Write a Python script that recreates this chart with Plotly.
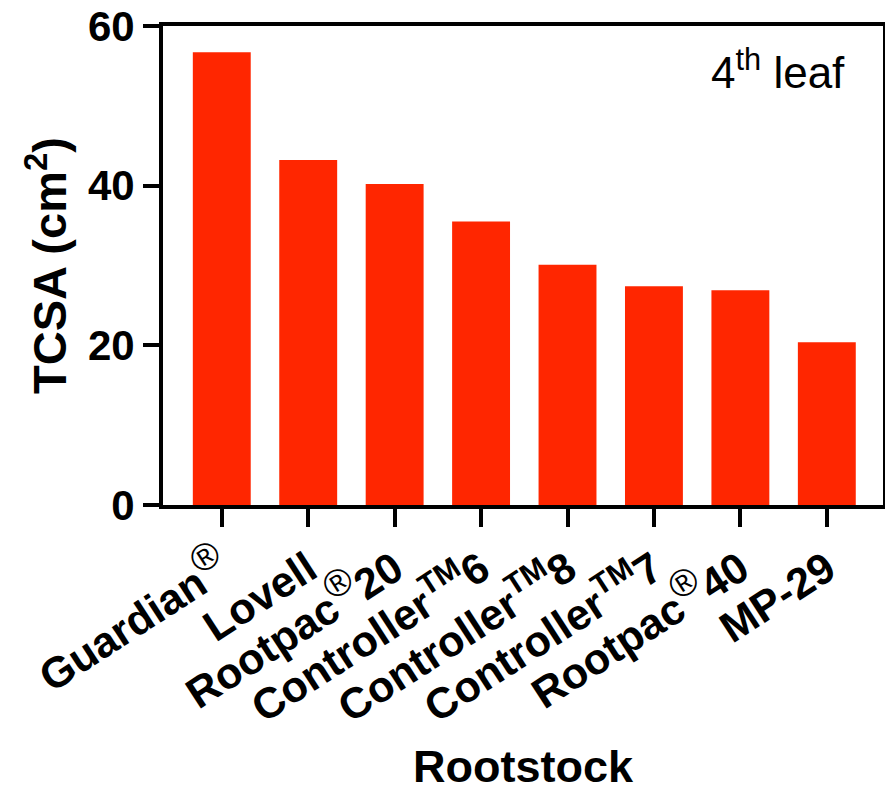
import plotly.graph_objects as go

# Trunk cross-sectional area by rootstock, 4th leaf
REG = '<sup><span style="font-weight:normal;font-size:38px">®</span></sup>'
rootstocks = [
    "Guardian" + REG,
    "Lovell",
    "Rootpac" + REG + "20",
    "Controller<sup>TM</sup>6",
    "Controller<sup>TM</sup>8",
    "Controller<sup>TM</sup>7",
    "Rootpac" + REG + "40",
    "MP-29",
]
tcsa = [56.7, 43.2, 40.2, 35.5, 30.1, 27.4, 26.9, 20.4]
y_ticks = [0, 20, 40, 60]

FONT = "Liberation Sans, Arial, sans-serif"

fig = go.Figure(
    go.Bar(
        x=list(range(len(rootstocks))),
        y=tcsa,
        width=0.67,
        marker=dict(color="#FF2600", line=dict(width=0)),
    )
)

fig.update_layout(
    width=885,
    height=792,
    margin=dict(l=163, r=2, t=26, b=287, autoexpand=False),
    plot_bgcolor="white",
    paper_bgcolor="white",
    showlegend=False,
    font=dict(family=FONT, color="black"),
)

fig.update_xaxes(
    range=[-0.68, 7.65],
    tickmode="array",
    tickvals=list(range(len(rootstocks))),
    ticktext=rootstocks,
    tickangle=-33,
    tickfont=dict(size=43, family=FONT, weight="bold"),
    ticks="outside",
    ticklen=18,
    tickwidth=4,
    tickcolor="black",
    showline=True,
    linewidth=4,
    linecolor="black",
    mirror=True,
    showgrid=False,
    zeroline=False,
    automargin=False,
    title=dict(text="Rootstock", font=dict(size=45, family=FONT, weight="bold"), standoff=22),
)

fig.update_yaxes(
    range=[0, 60],
    tickmode="array",
    tickvals=y_ticks,
    ticks="outside",
    ticklen=16,
    tickwidth=4,
    tickcolor="black",
    tickfont=dict(size=42, family=FONT, weight="bold"),
    showline=True,
    linewidth=4,
    linecolor="black",
    mirror=True,
    showgrid=False,
    zeroline=False,
    automargin=False,
    title=dict(text="TCSA (cm<sup>2</sup>)", font=dict(size=47, family=FONT, weight="bold"), standoff=7),
)

fig.add_annotation(
    text="4<sup>th</sup> leaf",
    xref="paper",
    yref="paper",
    x=0.95,
    y=0.97,
    xanchor="right",
    yanchor="top",
    showarrow=False,
    font=dict(size=44, family=FONT, color="black"),
)

fig.write_html("out.html")
